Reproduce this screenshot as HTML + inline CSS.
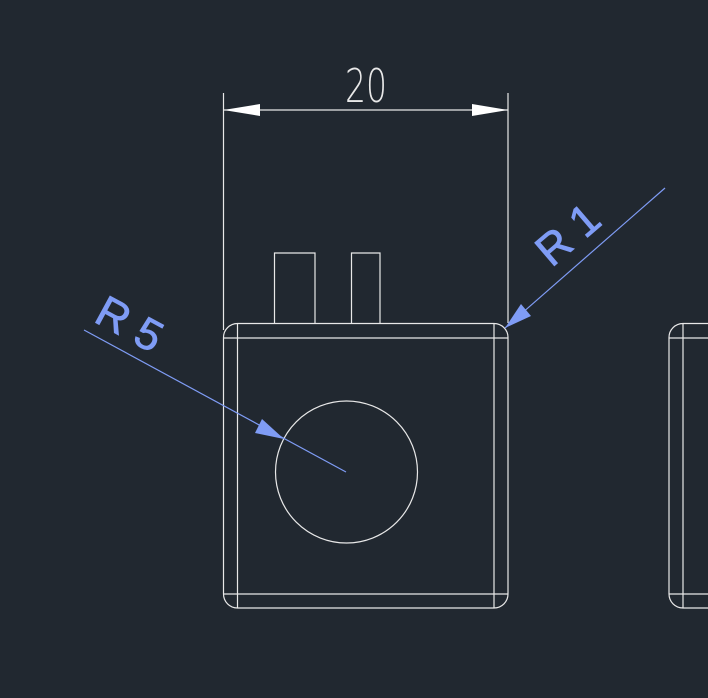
<!DOCTYPE html>
<html><head><style>html,body{margin:0;padding:0;background:#212830;}svg{display:block}</style></head>
<body>
<svg width="708" height="698" viewBox="0 0 708 698" xmlns="http://www.w3.org/2000/svg">
<rect width="708" height="698" fill="#212830"/>
<g stroke="#e8e8e8" stroke-width="1.2" fill="none">
<line x1="223.5" y1="93" x2="223.5" y2="330"/>
<line x1="508" y1="93" x2="508" y2="323"/>
<line x1="223.5" y1="110" x2="508" y2="110"/>
<path d="M237.5 323.5 H494 A14 14 0 0 1 508 337.5 V594 A14 14 0 0 1 494 608 H237.5 A14 14 0 0 1 223.5 594 V337.5 A14 14 0 0 1 237.5 323.5 Z"/>
<line x1="223.5" y1="338" x2="508" y2="338"/>
<line x1="223.5" y1="594" x2="508" y2="594"/>
<line x1="237.5" y1="323.5" x2="237.5" y2="608"/>
<line x1="494" y1="323.5" x2="494" y2="608"/>
<path d="M274.5 323.5 V253 H315 V323.5"/>
<path d="M351.5 323.5 V253 H380 V323.5"/>
<circle cx="346.5" cy="472" r="71"/>
<path d="M720 323.5 H683 A14 14 0 0 0 669 337.5 V594 A14 14 0 0 0 683 608 H720"/>
<line x1="669" y1="338" x2="708" y2="338"/>
<line x1="669" y1="594" x2="708" y2="594"/>
<line x1="683" y1="323.5" x2="683" y2="608"/>
</g>
<polygon points="223.5,110 260,104 260,116" fill="#ffffff"/>
<polygon points="508,110 472,104 472,116" fill="#ffffff"/>
<text x="366" y="102" fill="#e8e8e8" font-family="DejaVu Sans, Liberation Sans, sans-serif" font-size="46" font-weight="200" text-anchor="middle" textLength="42" lengthAdjust="spacingAndGlyphs">20</text>
<g stroke="#7f9cf5" stroke-width="1.2">
<line x1="84" y1="330" x2="346" y2="472"/>
<line x1="665" y1="188" x2="505" y2="328"/>
</g>
<polygon points="284,439 255,433 262,419" fill="#7f9cf5"/>
<polygon points="505,328 521,304 531,316" fill="#7f9cf5"/>
<text transform="translate(128,327) rotate(28.5)" fill="#7f9cf5" stroke="#7f9cf5" stroke-width="0.8" font-family="Liberation Sans, sans-serif" font-size="44" text-anchor="middle" dominant-baseline="middle">R 5</text>
<text transform="translate(570,237) rotate(-40.6)" fill="#7f9cf5" stroke="#7f9cf5" stroke-width="0.8" font-family="Liberation Sans, sans-serif" font-size="44" text-anchor="middle" dominant-baseline="middle">R 1</text>
</svg>
</body></html>
